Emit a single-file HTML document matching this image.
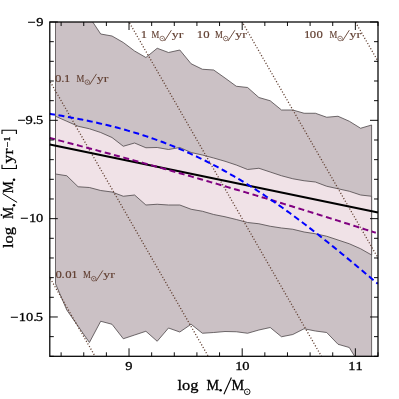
<!DOCTYPE html>
<html><head><meta charset="utf-8"><title>plot</title>
<style>
html,body{margin:0;padding:0;background:#fff;}
body{width:399px;height:399px;overflow:hidden;}
svg{display:block;will-change:transform;}
text{font-family:"Liberation Serif",serif;}
.ax text{stroke:#000;stroke-width:0.3px;}
.br{fill:#603e30;font-size:10.8px;stroke:#603e30;stroke-width:0.15px;}
</style></head><body>
<svg width="399" height="399" viewBox="0 0 399 399">
<rect width="399" height="399" fill="#fff"/>
<defs><clipPath id="c"><rect x="49.80" y="22.00" width="328.20" height="334.30"/></clipPath></defs>
<g clip-path="url(#c)">
<polygon points="55.50,-10.00 66.80,-5.00 78.10,2.00 89.40,17.00 100.70,34.00 112.00,36.00 123.30,42.50 134.60,51.00 145.90,57.50 157.20,48.25 168.50,52.50 179.80,50.00 191.10,63.75 202.40,69.25 213.70,70.00 225.00,78.00 236.30,86.25 247.60,87.50 258.90,97.50 270.20,100.75 281.50,110.00 292.80,110.00 304.10,113.25 315.40,113.25 326.70,117.25 338.00,116.25 349.30,121.25 360.60,128.25 371.60,125.00 371.60,372.00 360.60,366.00 349.30,347.50 338.00,344.25 326.70,332.50 315.40,331.00 304.10,328.75 292.80,334.50 281.50,336.75 270.20,327.50 258.90,330.00 247.60,333.25 236.30,331.75 225.00,331.50 213.70,332.50 202.40,333.25 191.10,324.25 179.80,332.00 168.50,328.00 157.20,341.25 145.90,331.25 134.60,335.00 123.30,338.75 112.00,324.25 100.70,321.25 89.40,342.50 78.10,326.25 66.80,310.00 55.50,283.75" fill="#cbc1c5" stroke="#4c4649" stroke-width="0.8" stroke-linejoin="round"/>
<polygon points="55.50,116.25 66.80,121.25 78.10,126.25 89.40,128.75 100.70,132.50 112.00,137.50 123.30,146.25 134.60,143.00 145.90,147.75 157.20,147.50 168.50,149.50 179.80,147.50 191.10,152.50 202.40,155.00 213.70,158.00 225.00,161.25 236.30,165.00 247.60,169.50 258.90,168.25 270.20,172.00 281.50,175.75 292.80,178.75 304.10,180.75 315.40,182.00 326.70,186.25 338.00,188.75 349.30,191.25 360.60,195.00 371.60,196.25 371.60,255.00 360.60,248.75 349.30,243.75 338.00,240.00 326.70,236.25 315.40,233.75 304.10,232.00 292.80,229.25 281.50,228.00 270.20,226.25 258.90,223.75 247.60,222.50 236.30,219.50 225.00,216.75 213.70,214.50 202.40,211.25 191.10,209.25 179.80,205.00 168.50,205.00 157.20,204.25 145.90,205.00 134.60,195.00 123.30,196.25 112.00,192.00 100.70,190.50 89.40,187.50 78.10,186.75 66.80,175.75 55.50,174.00" fill="#f0e2e7" stroke="#4c4649" stroke-width="0.8" stroke-linejoin="round"/>
<line x1="15.85" y1="218.65" x2="411.95" y2="906.91" stroke="#603e30" stroke-width="1.3" stroke-dasharray="1.1 1.9"/>
<line x1="15.85" y1="22.00" x2="411.95" y2="710.26" stroke="#603e30" stroke-width="1.3" stroke-dasharray="1.1 1.9"/>
<line x1="15.85" y1="-174.65" x2="411.95" y2="513.62" stroke="#603e30" stroke-width="1.3" stroke-dasharray="1.1 1.9"/>
<line x1="15.85" y1="-371.29" x2="411.95" y2="316.97" stroke="#603e30" stroke-width="1.3" stroke-dasharray="1.1 1.9"/>
<line x1="15.85" y1="-567.94" x2="411.95" y2="120.32" stroke="#603e30" stroke-width="1.3" stroke-dasharray="1.1 1.9"/>
</g>
<line x1="49.8" y1="144.5" x2="378" y2="212.5" stroke="#000" stroke-width="2.2"/>
<path d="M49.80,138.03 L51.80,138.55 L53.80,139.06 L55.80,139.58 L57.80,140.10 L59.80,140.62 L61.80,141.13 L63.80,141.65 L65.80,142.18 L67.80,142.70 L69.80,143.22 L71.80,143.74 L73.80,144.27 L75.80,144.79 L77.80,145.32 L79.80,145.85 L81.80,146.37 L83.80,146.90 L85.80,147.43 L87.80,147.96 L89.80,148.49 L91.80,149.02 L93.80,149.56 L95.80,150.09 L97.80,150.62 L99.80,151.16 L101.80,151.69 L103.80,152.23 L105.80,152.77 L107.80,153.31 L109.80,153.84 L111.80,154.38 L113.80,154.92 L115.80,155.47 L117.80,156.01 L119.80,156.55 L121.80,157.10 L123.80,157.64 L125.80,158.19 L127.80,158.73 L129.80,159.28 L131.80,159.83 L133.80,160.38 L135.80,160.93 L137.80,161.48 L139.80,162.03 L141.80,162.58 L143.80,163.13 L145.80,163.69 L147.80,164.24 L149.80,164.80 L151.80,165.35 L153.80,165.91 L155.80,166.47 L157.80,167.03 L159.80,167.58 L161.80,168.15 L163.80,168.71 L165.80,169.27 L167.80,169.83 L169.80,170.39 L171.80,170.96 L173.80,171.52 L175.80,172.09 L177.80,172.66 L179.80,173.22 L181.80,173.79 L183.80,174.36 L185.80,174.93 L187.80,175.50 L189.80,176.07 L191.80,176.65 L193.80,177.22 L195.80,177.79 L197.80,178.37 L199.80,178.95 L201.80,179.52 L203.80,180.10 L205.80,180.68 L207.80,181.26 L209.80,181.84 L211.80,182.42 L213.80,183.00 L215.80,183.58 L217.80,184.16 L219.80,184.75 L221.80,185.33 L223.80,185.92 L225.80,186.50 L227.80,187.09 L229.80,187.68 L231.80,188.27 L233.80,188.86 L235.80,189.45 L237.80,190.04 L239.80,190.63 L241.80,191.23 L243.80,191.82 L245.80,192.41 L247.80,193.01 L249.80,193.61 L251.80,194.20 L253.80,194.80 L255.80,195.40 L257.80,196.00 L259.80,196.60 L261.80,197.20 L263.80,197.80 L265.80,198.41 L267.80,199.01 L269.80,199.61 L271.80,200.22 L273.80,200.82 L275.80,201.43 L277.80,202.04 L279.80,202.65 L281.80,203.26 L283.80,203.87 L285.80,204.48 L287.80,205.09 L289.80,205.70 L291.80,206.32 L293.80,206.93 L295.80,207.54 L297.80,208.16 L299.80,208.78 L301.80,209.39 L303.80,210.01 L305.80,210.63 L307.80,211.25 L309.80,211.87 L311.80,212.49 L313.80,213.12 L315.80,213.74 L317.80,214.36 L319.80,214.99 L321.80,215.61 L323.80,216.24 L325.80,216.87 L327.80,217.50 L329.80,218.13 L331.80,218.76 L333.80,219.39 L335.80,220.02 L337.80,220.65 L339.80,221.28 L341.80,221.92 L343.80,222.55 L345.80,223.19 L347.80,223.82 L349.80,224.46 L351.80,225.10 L353.80,225.74 L355.80,226.38 L357.80,227.02 L359.80,227.66 L361.80,228.30 L363.80,228.94 L365.80,229.59 L367.80,230.23 L369.80,230.88 L371.80,231.52 L373.80,232.17 L375.80,232.82" fill="none" stroke="#800080" stroke-width="2" stroke-dasharray="6 3.6" stroke-dashoffset="0.8"/>
<path d="M49.80,113.81 L51.80,114.14 L53.80,114.48 L55.80,114.82 L57.80,115.16 L59.80,115.50 L61.80,115.85 L63.80,116.20 L65.80,116.56 L67.80,116.92 L69.80,117.29 L71.80,117.66 L73.80,118.03 L75.80,118.41 L77.80,118.79 L79.80,119.18 L81.80,119.58 L83.80,119.98 L85.80,120.38 L87.80,120.80 L89.80,121.22 L91.80,121.64 L93.80,122.07 L95.80,122.51 L97.80,122.96 L99.80,123.41 L101.80,123.87 L103.80,124.34 L105.80,124.81 L107.80,125.30 L109.80,125.79 L111.80,126.29 L113.80,126.80 L115.80,127.31 L117.80,127.84 L119.80,128.37 L121.80,128.91 L123.80,129.46 L125.80,130.02 L127.80,130.59 L129.80,131.17 L131.80,131.76 L133.80,132.36 L135.80,132.97 L137.80,133.58 L139.80,134.21 L141.80,134.85 L143.80,135.50 L145.80,136.15 L147.80,136.82 L149.80,137.50 L151.80,138.19 L153.80,138.89 L155.80,139.60 L157.80,140.32 L159.80,141.05 L161.80,141.80 L163.80,142.55 L165.80,143.31 L167.80,144.09 L169.80,144.88 L171.80,145.68 L173.80,146.49 L175.80,147.31 L177.80,148.14 L179.80,148.98 L181.80,149.84 L183.80,150.70 L185.80,151.58 L187.80,152.47 L189.80,153.37 L191.80,154.29 L193.80,155.21 L195.80,156.15 L197.80,157.10 L199.80,158.06 L201.80,159.03 L203.80,160.01 L205.80,161.01 L207.80,162.02 L209.80,163.03 L211.80,164.07 L213.80,165.11 L215.80,166.16 L217.80,167.23 L219.80,168.31 L221.80,169.40 L223.80,170.50 L225.80,171.61 L227.80,172.73 L229.80,173.87 L231.80,175.02 L233.80,176.18 L235.80,177.35 L237.80,178.53 L239.80,179.72 L241.80,180.93 L243.80,182.14 L245.80,183.37 L247.80,184.61 L249.80,185.86 L251.80,187.12 L253.80,188.39 L255.80,189.67 L257.80,190.97 L259.80,192.27 L261.80,193.59 L263.80,194.91 L265.80,196.25 L267.80,197.59 L269.80,198.95 L271.80,200.32 L273.80,201.69 L275.80,203.08 L277.80,204.48 L279.80,205.89 L281.80,207.30 L283.80,208.73 L285.80,210.16 L287.80,211.61 L289.80,213.06 L291.80,214.53 L293.80,216.00 L295.80,217.48 L297.80,218.97 L299.80,220.47 L301.80,221.98 L303.80,223.49 L305.80,225.02 L307.80,226.55 L309.80,228.09 L311.80,229.64 L313.80,231.19 L315.80,232.75 L317.80,234.32 L319.80,235.90 L321.80,237.48 L323.80,239.07 L325.80,240.67 L327.80,242.27 L329.80,243.88 L331.80,245.50 L333.80,247.12 L335.80,248.74 L337.80,250.37 L339.80,252.01 L341.80,253.65 L343.80,255.30 L345.80,256.95 L347.80,258.61 L349.80,260.26 L351.80,261.93 L353.80,263.60 L355.80,265.27 L357.80,266.94 L359.80,268.62 L361.80,270.30 L363.80,271.98 L365.80,273.66 L367.80,275.35 L369.80,277.04 L371.80,278.73 L373.80,280.42 L375.80,282.11 L377.80,283.80" fill="none" stroke="#0000ff" stroke-width="2" stroke-dasharray="6 3.6" stroke-dashoffset="0.8"/>
<rect x="49.8" y="22.0" width="328.2" height="334.3" fill="none" stroke="#000" stroke-width="1.25"/>
<path d="M61.12,356.3 v-4 M61.12,22.0 v4 M83.75,356.3 v-4 M83.75,22.0 v4 M106.39,356.3 v-4 M106.39,22.0 v4 M129.02,356.3 v-8 M129.02,22.0 v8 M151.66,356.3 v-4 M151.66,22.0 v4 M174.29,356.3 v-4 M174.29,22.0 v4 M196.92,356.3 v-4 M196.92,22.0 v4 M219.56,356.3 v-4 M219.56,22.0 v4 M242.19,356.3 v-8 M242.19,22.0 v8 M264.83,356.3 v-4 M264.83,22.0 v4 M287.46,356.3 v-4 M287.46,22.0 v4 M310.10,356.3 v-4 M310.10,22.0 v4 M332.73,356.3 v-4 M332.73,22.0 v4 M355.37,356.3 v-8 M355.37,22.0 v8 M378.00,356.3 v-4 M378.00,22.0 v4 M49.8,22.00 h8 M378.0,22.00 h-8 M49.8,41.66 h4 M378.0,41.66 h-4 M49.8,61.33 h4 M378.0,61.33 h-4 M49.8,80.99 h4 M378.0,80.99 h-4 M49.8,100.66 h4 M378.0,100.66 h-4 M49.8,120.32 h8 M378.0,120.32 h-8 M49.8,139.99 h4 M378.0,139.99 h-4 M49.8,159.65 h4 M378.0,159.65 h-4 M49.8,179.32 h4 M378.0,179.32 h-4 M49.8,198.98 h4 M378.0,198.98 h-4 M49.8,218.65 h8 M378.0,218.65 h-8 M49.8,238.31 h4 M378.0,238.31 h-4 M49.8,257.98 h4 M378.0,257.98 h-4 M49.8,277.64 h4 M378.0,277.64 h-4 M49.8,297.31 h4 M378.0,297.31 h-4 M49.8,316.97 h8 M378.0,316.97 h-8 M49.8,336.64 h4 M378.0,336.64 h-4 M49.8,356.30 h4 M378.0,356.30 h-4" stroke="#000" stroke-width="0.95" fill="none"/>
<text transform="translate(0,370.30) scale(1.25,1)" x="103.12" y="0" text-anchor="middle" font-size="11.6" fill="#000" stroke="#000" stroke-width="0.25">9</text>
<text transform="translate(0,370.30) scale(1.25,1)" x="191.20 196.64" y="0" text-anchor="middle" font-size="11.6" fill="#000" stroke="#000" stroke-width="0.25">10</text>
<text transform="translate(0,370.30) scale(1.25,1)" x="281.52 287.36" y="0" text-anchor="middle" font-size="11.6" fill="#000" stroke="#000" stroke-width="0.25">11</text>
<text transform="translate(0,25.70) scale(1.25,1)" x="25.32 31.92" y="0" text-anchor="middle" font-size="11.6" fill="#000" stroke="#000" stroke-width="0.25">−9</text>
<text transform="translate(0,124.02) scale(1.25,1)" x="17.24 23.28 27.60 31.68" y="0" text-anchor="middle" font-size="11.6" fill="#000" stroke="#000" stroke-width="0.25">−9.5</text>
<text transform="translate(0,222.35) scale(1.25,1)" x="19.44 26.08 31.68" y="0" text-anchor="middle" font-size="11.6" fill="#000" stroke="#000" stroke-width="0.25">−10</text>
<text transform="translate(0,320.67) scale(1.25,1)" x="11.40 18.00 23.64 28.04 31.56" y="0" text-anchor="middle" font-size="11.6" fill="#000" stroke="#000" stroke-width="0.25">−10.5</text>
<text transform="translate(0,37.80) scale(1.2,1)" x="119.92" y="0" text-anchor="middle" font-size="10.6" fill="#603e30" stroke="#603e30" stroke-width="0.15">1</text><text class="br" x="151.50" y="37.8" textLength="7.8" lengthAdjust="spacingAndGlyphs">M</text><circle cx="162.20" cy="38.50" r="2.3" fill="none" stroke="#603e30" stroke-width="0.7"/><circle cx="162.20" cy="38.50" r="0.6" fill="#603e30"/><line x1="164.50" y1="41.0" x2="171.40" y2="30.199999999999996" stroke="#603e30" stroke-width="0.9"/><text class="br" x="171.70" y="37.8" style="font-size:11.3px" textLength="11.6" lengthAdjust="spacingAndGlyphs">yr</text>
<text transform="translate(0,37.80) scale(1.2,1)" x="166.67 172.08" y="0" text-anchor="middle" font-size="10.6" fill="#603e30" stroke="#603e30" stroke-width="0.15">10</text><text class="br" x="215.00" y="37.8" textLength="7.8" lengthAdjust="spacingAndGlyphs">M</text><circle cx="225.70" cy="38.50" r="2.3" fill="none" stroke="#603e30" stroke-width="0.7"/><circle cx="225.70" cy="38.50" r="0.6" fill="#603e30"/><line x1="228.00" y1="41.0" x2="234.90" y2="30.199999999999996" stroke="#603e30" stroke-width="0.9"/><text class="br" x="235.20" y="37.8" style="font-size:11.3px" textLength="11.6" lengthAdjust="spacingAndGlyphs">yr</text>
<text transform="translate(0,37.80) scale(1.2,1)" x="256.00 260.83 266.42" y="0" text-anchor="middle" font-size="10.6" fill="#603e30" stroke="#603e30" stroke-width="0.15">100</text><text class="br" x="329.40" y="37.8" textLength="7.8" lengthAdjust="spacingAndGlyphs">M</text><circle cx="340.10" cy="38.50" r="2.3" fill="none" stroke="#603e30" stroke-width="0.7"/><circle cx="340.10" cy="38.50" r="0.6" fill="#603e30"/><line x1="342.40" y1="41.0" x2="349.30" y2="30.199999999999996" stroke="#603e30" stroke-width="0.9"/><text class="br" x="349.60" y="37.8" style="font-size:11.3px" textLength="11.6" lengthAdjust="spacingAndGlyphs">yr</text>
<text transform="translate(0,81.50) scale(1.2,1)" x="48.58 52.42 56.08" y="0" text-anchor="middle" font-size="10.6" fill="#603e30" stroke="#603e30" stroke-width="0.15">0.1</text><text class="br" x="76.60" y="81.5" textLength="7.8" lengthAdjust="spacingAndGlyphs">M</text><circle cx="87.30" cy="82.20" r="2.3" fill="none" stroke="#603e30" stroke-width="0.7"/><circle cx="87.30" cy="82.20" r="0.6" fill="#603e30"/><line x1="89.60" y1="84.7" x2="96.50" y2="73.9" stroke="#603e30" stroke-width="0.9"/><text class="br" x="96.80" y="81.5" style="font-size:11.3px" textLength="11.6" lengthAdjust="spacingAndGlyphs">yr</text>
<text transform="translate(0,278.00) scale(1.2,1)" x="48.83 52.67 57.00 62.08" y="0" text-anchor="middle" font-size="10.6" fill="#603e30" stroke="#603e30" stroke-width="0.15">0.01</text><text class="br" x="83.00" y="278" textLength="7.8" lengthAdjust="spacingAndGlyphs">M</text><circle cx="93.70" cy="278.70" r="2.3" fill="none" stroke="#603e30" stroke-width="0.7"/><circle cx="93.70" cy="278.70" r="0.6" fill="#603e30"/><line x1="96.00" y1="281.2" x2="102.90" y2="270.4" stroke="#603e30" stroke-width="0.9"/><text class="br" x="103.20" y="278" style="font-size:11.3px" textLength="11.6" lengthAdjust="spacingAndGlyphs">yr</text>
<g class="ax">
<text x="177.5" y="389.5" font-size="15" textLength="21" lengthAdjust="spacingAndGlyphs">log</text>
<text x="206.6" y="389.5" font-size="14" textLength="12.6" lengthAdjust="spacingAndGlyphs">M</text>
<circle cx="220.6" cy="390.2" r="1.3" fill="#000"/>
<line x1="223.9" y1="394.2" x2="231.4" y2="377.6" stroke="#000" stroke-width="1.1"/>
<text x="231.5" y="389.5" font-size="14" textLength="12.6" lengthAdjust="spacingAndGlyphs">M</text>
<circle cx="247.20" cy="391.80" r="2.8" fill="none" stroke="#000" stroke-width="0.9"/><circle cx="247.20" cy="391.80" r="0.6" fill="#000"/>
</g>
<g class="ax" transform="translate(13.3,0) rotate(-90)">
<text x="-248" y="0" font-size="15" textLength="21" lengthAdjust="spacingAndGlyphs">log</text>
<text x="-218.9" y="0" font-size="14" textLength="12" lengthAdjust="spacingAndGlyphs">M</text>
<circle cx="-215" cy="-11.8" r="0.9" fill="#000"/>
<circle cx="-205.3" cy="0.7" r="1.3" fill="#000"/>
<line x1="-202.4" y1="3.8" x2="-193.6" y2="-10.7" stroke="#000" stroke-width="1"/>
<text x="-193.3" y="0" font-size="14" textLength="12" lengthAdjust="spacingAndGlyphs">M</text>
<circle cx="-179.8" cy="0.7" r="1.3" fill="#000"/>
<path d="M-164.8,-11.3 h-3.7 v14.4 h3.7" fill="none" stroke="#000" stroke-width="1.1"/>
<text x="-163.4" y="0" font-size="15.5" textLength="14.8" lengthAdjust="spacingAndGlyphs">yr</text>
<text x="-147.2" y="-3.3" font-size="8" textLength="10.6" lengthAdjust="spacingAndGlyphs">−1</text>
<path d="M-134,-11.3 h3.7 v14.4 h-3.7" fill="none" stroke="#000" stroke-width="1.1"/>
</g>
</svg></body></html>
